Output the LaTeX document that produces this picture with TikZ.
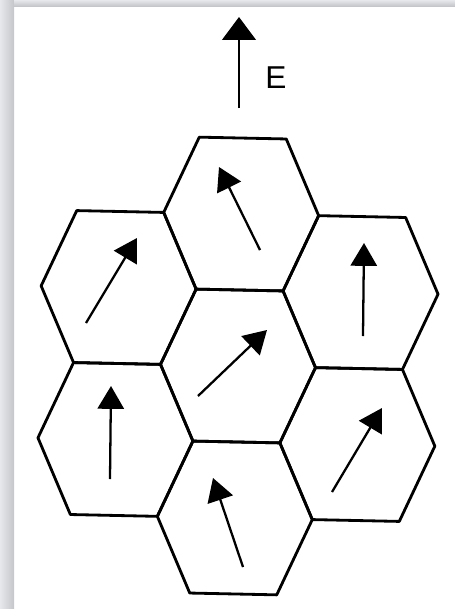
\documentclass[tikz,border=0pt]{standalone}
\usepackage{fontspec}
\setsansfont{Liberation Sans}
\usetikzlibrary{positioning,arrows.meta}
\definecolor{framegray}{RGB}{230,232,235}
\definecolor{shadowgray}{RGB}{196,198,202}

\tikzset{
  cell/.style={line width=1.6pt,line join=round},
  spin/.style={line width=1.3pt,-{Triangle[length=13pt,width=15pt]}},
}

\begin{document}
\begin{tikzpicture}[x=0.02cm,y=-0.02cm]
  \useasboundingbox (0,0) rectangle (455,609);
  % frame
  \shade[left color=framegray,right color=shadowgray] (0,0) rectangle (14,609);
  \shade[top color=framegray,bottom color=shadowgray] (14,0) rectangle (455,6);
  % applied field
  \coordinate (Efoot) at (239,108);
  \coordinate (Etip) at (239,17);
  \draw[line width=1.5pt,-{Triangle[length=13pt,width=19pt]}] (Efoot) -- (Etip);
  \node[font=\sffamily\fontsize{18}{18}\selectfont] (E) at (276,78) {E};
  % grains
  \begin{scope}[shift={(238,366)},rotate=-1.2]
    \foreach \cx/\cy in {0/0,0/-152,0/152,-121/-76,-121/76,121/-76,121/76}{
      \draw[cell] (\cx-77.5,\cy) -- (\cx-43.5,\cy-76) -- (\cx+43.5,\cy-76)
        -- (\cx+77.5,\cy) -- (\cx+43.5,\cy+76) -- (\cx-43.5,\cy+76) -- cycle;
    }
  \end{scope}
  % polarisation of each grain
  \foreach \n/\ax/\ay/\bx/\by in {T/260/250/219/167, UL/86/323/137/238,
      UR/363/336/364/243, C/198/396/267/330, LL/110/479/111/386,
      LR/332/492/382/408, B/243/567/213/478}{
    \coordinate (\n tail) at (\ax,\ay);
    \coordinate (\n head) at (\bx,\by);
    \draw[spin] (\n tail) -- (\n head);
  }
\end{tikzpicture}
\end{document}
